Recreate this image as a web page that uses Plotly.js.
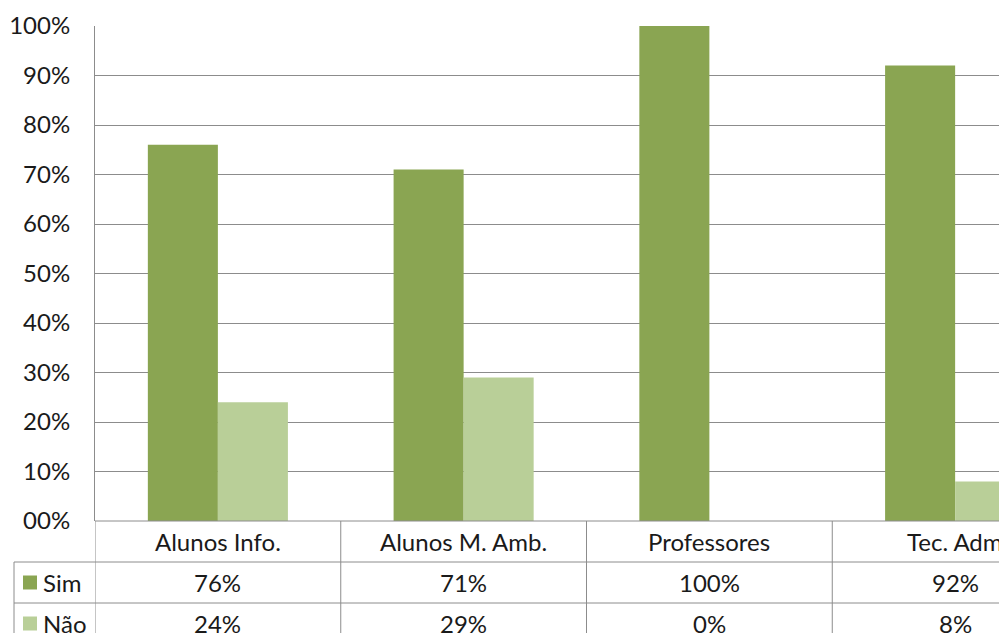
<!DOCTYPE html>
<html>
<head>
<meta charset="utf-8">
<script src="https://cdn.plot.ly/plotly-3.0.1.min.js"></script>
<style>
  html, body { margin: 0; padding: 0; background: #ffffff; overflow: hidden; }
  #chart { width: 1078px; height: 660px; }
</style>
</head>
<body>
<div id="chart"></div>
<script>
// Categories and series values (fractions)
const categories = ["Alunos Info.", "Alunos M. Amb.", "Professores", "Tec. Adm"];
const simValues = [0.76, 0.71, 1.00, 0.92];
const naoValues = [0.24, 0.29, 0.00, 0.08];
const seriesNames = ["Sim", "Não"];
const yTickValues = [0, 0.1, 0.2, 0.3, 0.4, 0.5, 0.6, 0.7, 0.8, 0.9, 1.0];
const yTickLabels = ["00%", "10%", "20%", "30%", "40%", "50%", "60%", "70%", "80%", "90%", "100%"];

const simColor = "#8aa552";
const naoColor = "#b9cf98";
const lineColor = "#8c8c8c";
const textColor = "#1a1a1a";
const fontFamily = "Lato, 'Open Sans', sans-serif";
const fontSize = 24;

const W = 1078, H = 660;
const M = { l: 95, r: 0, t: 26, b: 139 };
const plotW = W - M.l - M.r;
const plotH = H - M.t - M.b;

// pixel offsets below the axis -> paper coordinates
const py = px => -px / plotH;
const pxX = px => (px - M.l) / plotW;

const rowH = 41;
const rows = [py(rowH), py(2 * rowH), py(3 * rowH)];

const traces = [
  { type: "bar", name: seriesNames[0], x: categories, y: simValues,
    marker: { color: simColor }, hoverinfo: "none" },
  { type: "bar", name: seriesNames[1], x: categories, y: naoValues,
    marker: { color: naoColor }, hoverinfo: "none" }
];

const shapes = [];
const annotations = [];

// baseline of the plot / top edge of the table
shapes.push({ type: "line", xref: "paper", yref: "paper",
  x0: 0, x1: 1, y0: 0, y1: 0, layer: "above",
  line: { color: lineColor, width: 1 } });
// horizontal table rules
rows.forEach(yy => {
  shapes.push({ type: "line", xref: "paper", yref: "paper",
    x0: pxX(14), x1: 1, y0: yy, y1: yy,
    line: { color: lineColor, width: 1 } });
});
// vertical table rules between categories
for (let i = 0; i <= categories.length; i++) {
  shapes.push({ type: "line", xref: "x", yref: "paper",
    x0: i - 0.5, x1: i - 0.5, y0: 0, y1: rows[2],
    line: { color: lineColor, width: 1 } });
}
// left border of the series rows
shapes.push({ type: "line", xref: "paper", yref: "paper",
  x0: pxX(14), x1: pxX(14), y0: rows[0], y1: rows[2],
  line: { color: lineColor, width: 1 } });

// category header row
categories.forEach((c, i) => {
  annotations.push({ xref: "x", yref: "paper", x: i, y: py(rowH / 2),
    text: c, showarrow: false, xanchor: "center", yanchor: "middle",
    font: { family: fontFamily, size: fontSize, color: textColor } });
});

// series rows with legend keys and values
const seriesRows = [
  { name: seriesNames[0], vals: simValues, color: simColor },
  { name: seriesNames[1], vals: naoValues, color: naoColor }
];
seriesRows.forEach((s, r) => {
  const yc = py(rowH * (r + 1) + rowH / 2);
  shapes.push({ type: "rect", xref: "paper", yref: "paper",
    x0: pxX(23), x1: pxX(37), y0: yc - 7 / plotH, y1: yc + 7 / plotH,
    fillcolor: s.color, line: { width: 0 } });
  annotations.push({ xref: "paper", yref: "paper", x: pxX(41), y: yc,
    text: s.name, showarrow: false, xanchor: "left", yanchor: "middle",
    font: { family: fontFamily, size: fontSize, color: textColor } });
  s.vals.forEach((v, i) => {
    annotations.push({ xref: "x", yref: "paper", x: i, y: yc,
      text: Math.round(v * 100) + "%", showarrow: false,
      xanchor: "center", yanchor: "middle",
      font: { family: fontFamily, size: fontSize, color: textColor } });
  });
});

const layout = {
  width: W, height: H,
  margin: M,
  paper_bgcolor: "#ffffff", plot_bgcolor: "#ffffff",
  barmode: "group", bargap: 0.43, bargroupgap: 0,
  showlegend: false,
  font: { family: fontFamily, size: fontSize, color: textColor },
  xaxis: {
    type: "category", range: [-0.5, categories.length - 0.5],
    showticklabels: false, showgrid: false, zeroline: false,
    showline: false, ticks: ""
  },
  yaxis: {
    range: [0, 1], tickvals: yTickValues, ticktext: yTickLabels,
    showgrid: true, gridcolor: lineColor, gridwidth: 1,
    zeroline: false, showline: true, linecolor: lineColor, linewidth: 1,
    ticks: "", ticklabelstandoff: 19,
    tickfont: { family: fontFamily, size: fontSize, color: textColor }
  },
  shapes: shapes,
  annotations: annotations
};

Plotly.newPlot("chart", traces, layout, { staticPlot: true, displayModeBar: false });
</script>
</body>
</html>
